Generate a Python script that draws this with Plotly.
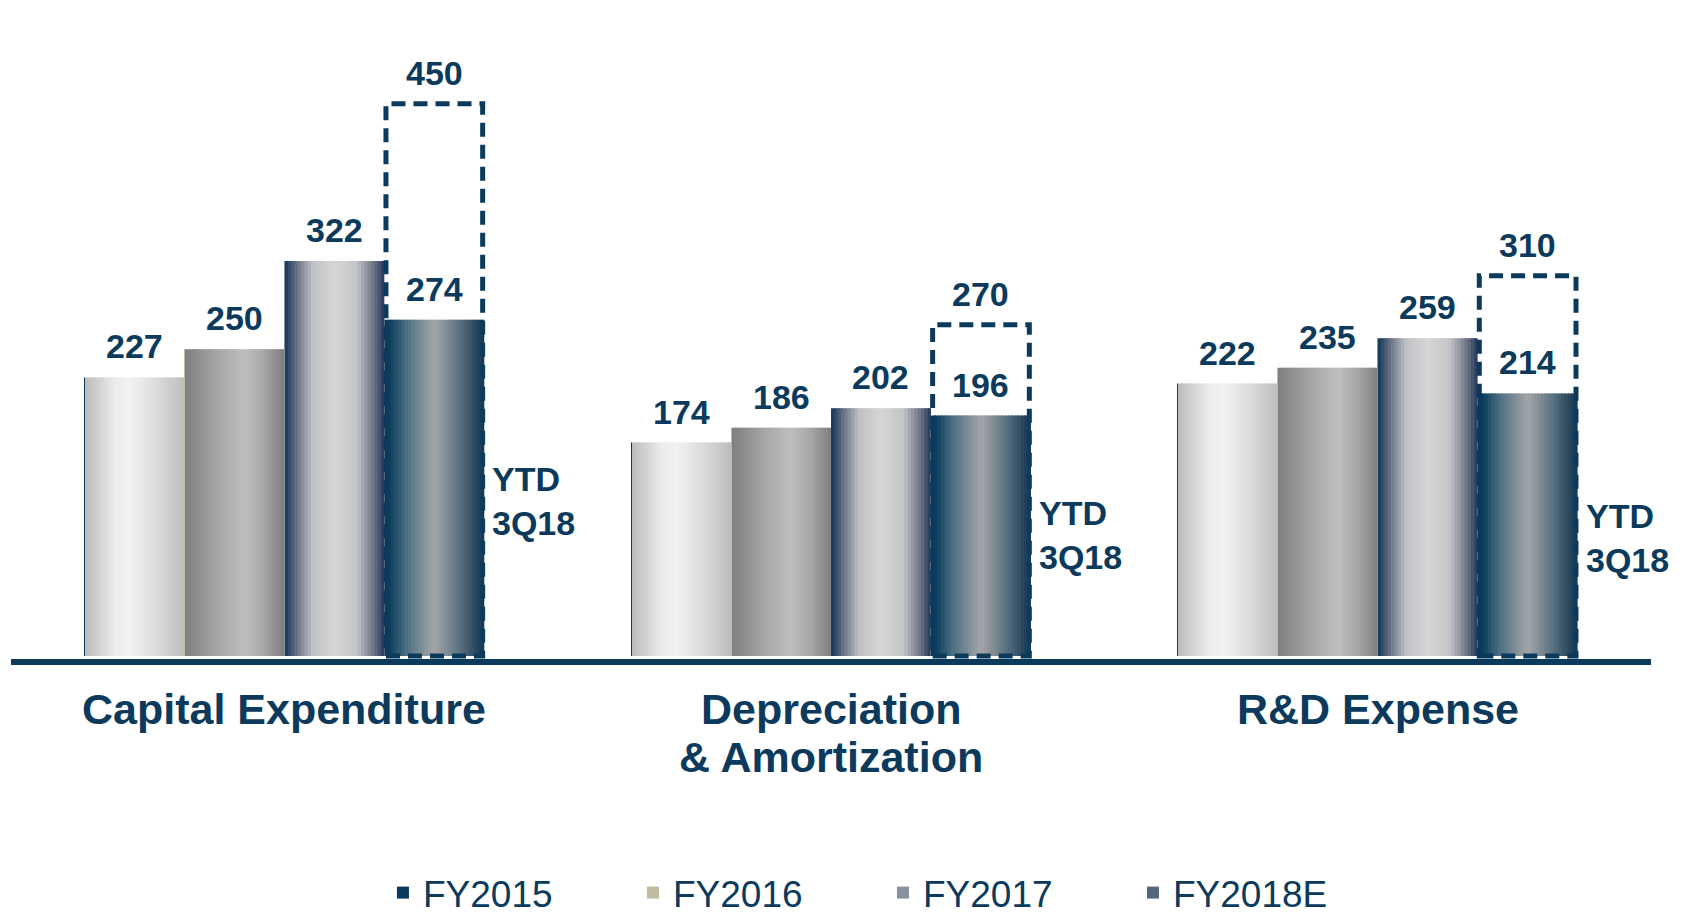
import plotly.graph_objects as go

# ---------------- data ----------------
categories = ["Capital Expenditure", "Depreciation<br>& Amortization", "R&D Expense"]
series_names = ["FY2015", "FY2016", "FY2017", "FY2018E"]
fy2015 = [227, 174, 222]
fy2016 = [250, 186, 235]
fy2017 = [322, 202, 259]
fy2018_ytd = [274, 196, 214]
fy2018_est = [450, 270, 310]
ytd_text = "YTD<br>3Q18"

series_values = [fy2015, fy2016, fy2017, fy2018_ytd]

# ---------------- style ----------------
NAVY = "#0b3a5c"
FONT = "Liberation Sans, Arial, sans-serif"
BAR_W = 0.1829
N_STRIPS = 30

gradients = [
    [(0, "#bababa"), (0.3, "#ebebeb"), (0.45, "#f2f2f2"), (0.75, "#d9d9d9"), (1, "#bcbcbc")],
    [(0, "#7e7e7e"), (0.35, "#a8a8a8"), (0.6, "#bfbfbf"), (0.8, "#a6a6a6"), (1, "#7e7e7e")],
    [(0, "#0e3659"), (0.1, "#5a6679"), (0.28, "#bfc1c5"), (0.5, "#d6d6d6"), (0.72, "#c4c5c9"),
     (0.9, "#6a7084"), (1, "#22385c")],
    [(0, "#08375a"), (0.06, "#0f405f"), (0.22, "#4c6f82"), (0.5, "#a5a6a8"), (0.75, "#5a7282"),
     (0.93, "#26445a"), (1, "#0b3a5c")],
]
legend_colors = [NAVY, "#c2bb9c", "#8a919e", "#52677a"]

ytd_label_y = [126, 99, 96]
CAT_LINE_GAP = 48
CAT_FIRST_OFFSET = 50


def hex2rgb(h):
    h = h.lstrip("#")
    return tuple(int(h[i:i + 2], 16) for i in (0, 2, 4))


def grad(stops, t):
    for (p0, c0), (p1, c1) in zip(stops[:-1], stops[1:]):
        if p0 <= t <= p1:
            f = (t - p0) / (p1 - p0) if p1 > p0 else 0
            a, b = hex2rgb(c0), hex2rgb(c1)
            r = [round(a[i] + (b[i] - a[i]) * f) for i in range(3)]
            return "rgb(%d,%d,%d)" % tuple(r)
    return stops[-1][1]


fig = go.Figure()

# gradient bars built from vertical strips
for j, vals in enumerate(series_values):
    left = (j - 2) * BAR_W
    step = BAR_W / N_STRIPS
    for k in range(N_STRIPS):
        t = (k + 0.5) / N_STRIPS
        sl = left + k * step
        wd = min(step * 1.6, left + BAR_W - sl)
        fig.add_trace(go.Bar(
            x=categories, y=vals, offset=sl, width=wd,
            marker=dict(color=grad(gradients[j], t), line=dict(width=0)),
            showlegend=False, hoverinfo="skip",
        ))

# legend entries
for j, vals in enumerate(series_values):
    fig.add_trace(go.Bar(
        x=categories, y=vals, name=series_names[j], offset=(j - 2) * BAR_W, width=1e-9,
        marker=dict(color=legend_colors[j], line=dict(width=0)),
        hoverinfo="skip",
    ))

annotations = []
label_font = dict(family=FONT, size=34, color=NAVY)
for j, vals in enumerate(series_values):
    for i, v in enumerate(vals):
        annotations.append(dict(
            x=i + (j - 2) * BAR_W + BAR_W / 2, y=v, xref="x", yref="y",
            text="<b>%d</b>" % v, showarrow=False, yanchor="bottom", yshift=10,
            font=label_font,
        ))

shapes = []
for i, est in enumerate(fy2018_est):
    x0 = i + BAR_W * 1 + 0.003
    x1 = i + BAR_W * 2 - 0.003
    shapes.append(dict(
        type="rect", xref="x", yref="y", x0=x0, x1=x1, y0=0, y1=est,
        line=dict(color=NAVY, width=5, dash="14px,8px"), layer="above",
    ))
    annotations.append(dict(
        x=i + BAR_W * 1.5, y=est, xref="x", yref="y",
        text="<b>%d</b>" % est, showarrow=False, yanchor="bottom", yshift=10,
        font=label_font,
    ))
    annotations.append(dict(
        x=i + BAR_W * 2, y=ytd_label_y[i], xref="x", yref="y",
        text="<b>%s</b>" % ytd_text, showarrow=False, xanchor="left", yanchor="middle",
        xshift=6, align="left", font=label_font,
    ))

# category labels (tighter line spacing than tick labels allow)
for i, cat in enumerate(categories):
    for n, line in enumerate(cat.split("<br>")):
        annotations.append(dict(
            x=i, y=0, xref="x", yref="paper", text="<b>%s</b>" % line,
            showarrow=False, xanchor="center", yanchor="middle",
            yshift=-(CAT_FIRST_OFFSET + n * CAT_LINE_GAP),
            font=dict(family=FONT, size=43, color=NAVY),
        ))

fig.update_layout(
    width=1681, height=911,
    margin=dict(l=3, r=38, t=2, b=260, autoexpand=False),
    barmode="overlay",
    plot_bgcolor="white", paper_bgcolor="white",
    showlegend=True,
    legend=dict(
        orientation="h", x=0.2268, xanchor="left",
        yref="container", y=0.0285, yanchor="middle",
        font=dict(family=FONT, size=37, color=NAVY),
        entrywidth=205, entrywidthmode="pixels", bgcolor="rgba(0,0,0,0)",
        traceorder="normal",
    ),
    xaxis=dict(
        type="category", range=[-0.5, 2.5], showgrid=False, zeroline=False,
        showline=True, linewidth=6, linecolor=NAVY, ticks="",
        showticklabels=False, automargin=False,
    ),
    yaxis=dict(range=[-2.445, 526.5], visible=False, showgrid=False, zeroline=False,
               automargin=False),
    annotations=annotations,
    shapes=shapes,
)

fig.write_html("out.html")
